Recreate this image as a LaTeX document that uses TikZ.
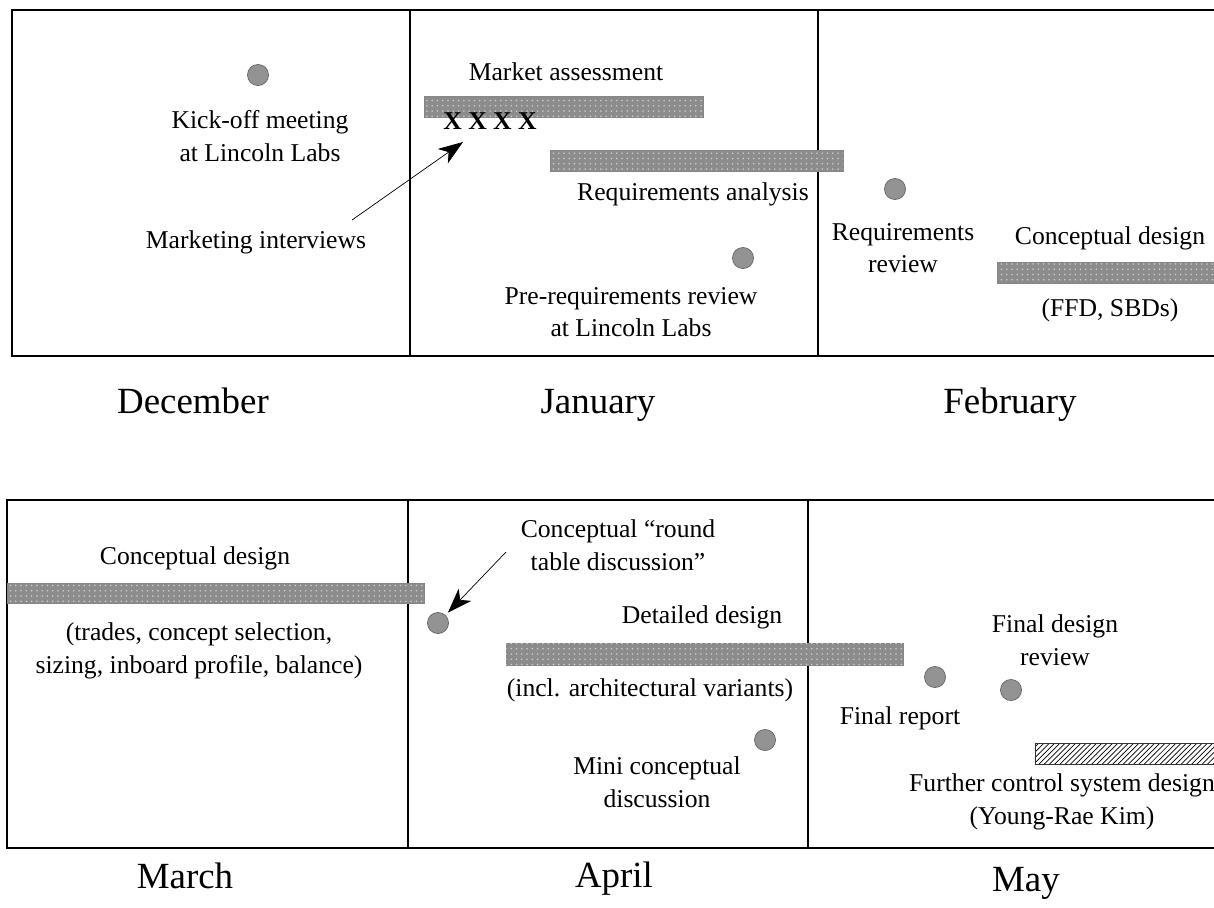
\documentclass[tikz,border=0pt]{standalone}
\usepackage{fontspec}
\setmainfont{Liberation Serif}
\usetikzlibrary{arrows.meta, patterns}

\begin{document}
\begin{tikzpicture}[x=0.02cm, y=-0.02cm,
    lbl/.style={align=center, inner sep=0pt, font=\fontsize{14.6pt}{18.5pt}\selectfont},
    month/.style={inner sep=0pt, anchor=base, font=\fontsize{21pt}{25pt}\selectfont},
    frame/.style={line width=1.4pt},
    bar/.style={fill=gray!90, draw=gray!95, line width=0.4pt,
                postaction={pattern=dots, pattern color=gray!40}},
    hatchbar/.style={draw=black!80, line width=0.5pt, pattern=north east lines},
    event/.style={circle, minimum size=12pt, inner sep=0pt, fill=gray!85, draw=gray!80!black, line width=0.4pt},
    pointer/.style={line width=0.4pt, -{Stealth[length=14pt, width=10pt, inset=4pt]}}]
  \useasboundingbox (0,0) rectangle (1214,907);

  % upper row: December -- February
  \draw[frame] (12,10) rectangle (1240,356);
  \draw[frame] (410,10) -- (410,356);
  \draw[frame] (818,10) -- (818,356);
  \node[month] (dec) at (193,413) {December};
  \node[month] (jan) at (598,413) {January};
  \node[month] (feb) at (1010,413) {February};

  \node[event] (kick) at (258,75) {};
  \node[lbl] (kicktxt) at (260,136) {Kick-off meeting\\at Lincoln Labs};
  \node[lbl] (mkt) at (256,242) {Marketing interviews};
  \coordinate (mkt start) at (352,220);
  \coordinate (mkt tip) at (463,142);
  \draw[pointer] (mkt start) -- (mkt tip);

  \node[lbl] (mass) at (566,72) {Market assessment};
  \draw[bar] (424,96) rectangle (703,117);
  \node[lbl, font=\fontsize{14.6pt}{18pt}\selectfont\bfseries] (xx) at (490,121) {X X X X};
  \draw[bar] (550,150) rectangle (843,171);
  \node[lbl] (reqa) at (693,194) {Requirements analysis};
  \node[event] (prer) at (743,258) {};
  \node[lbl] (prertxt) at (631,312) {Pre-requirements review\\at Lincoln Labs};

  \node[event] (reqr) at (895,189) {};
  \node[lbl] (reqrtxt) at (903,248) {Requirements\\review};
  \node[lbl] (cdes) at (1110,238) {Conceptual design};
  \draw[bar] (997,262) rectangle (1240,283);
  \node[lbl] (ffd) at (1110,310) {(FFD, SBDs)};

  % lower row: March -- May
  \draw[frame] (7,500) rectangle (1240,848);
  \draw[frame] (408,500) -- (408,848);
  \draw[frame] (808,500) -- (808,848);
  \node[month] (mar) at (185,888) {March};
  \node[month] (apr) at (614,887) {April};
  \node[month] (may) at (1026,891) {May};

  \node[lbl] (cdes2) at (195,558) {Conceptual design};
  \draw[bar] (7,583) rectangle (424,603);
  \node[lbl] (trades) at (199,651) {(trades, concept selection,\\sizing, inboard profile, balance)};

  \node[event] (rtdot) at (438,623) {};
  \node[lbl] (rt) at (618,545) {Conceptual “round\\table discussion”};
  \coordinate (rt start) at (506,552);
  \draw[pointer, shorten >=2pt] (rt start) -- (rtdot);

  \node[lbl] (ddes) at (702,617) {Detailed design};
  \draw[bar] (506,643) rectangle (903,665);
  \node[lbl] (incl) at (650,690) {(incl. architectural variants)};
  \node[event] (mini) at (765,740) {};
  \node[lbl] (minitxt) at (657,782) {Mini conceptual\\discussion};

  \node[lbl] (fdr) at (1055,640) {Final design\\review};
  \node[event] (fdrdot) at (1011,690) {};
  \node[event] (frdot) at (935,677) {};
  \node[lbl] (fr) at (900,718) {Final report};
  \draw[hatchbar] (1035,743) rectangle (1240,764);
  \node[lbl] (ctrl) at (1062,802) {Further control system design\\(Young-Rae Kim)};
\end{tikzpicture}
\end{document}
